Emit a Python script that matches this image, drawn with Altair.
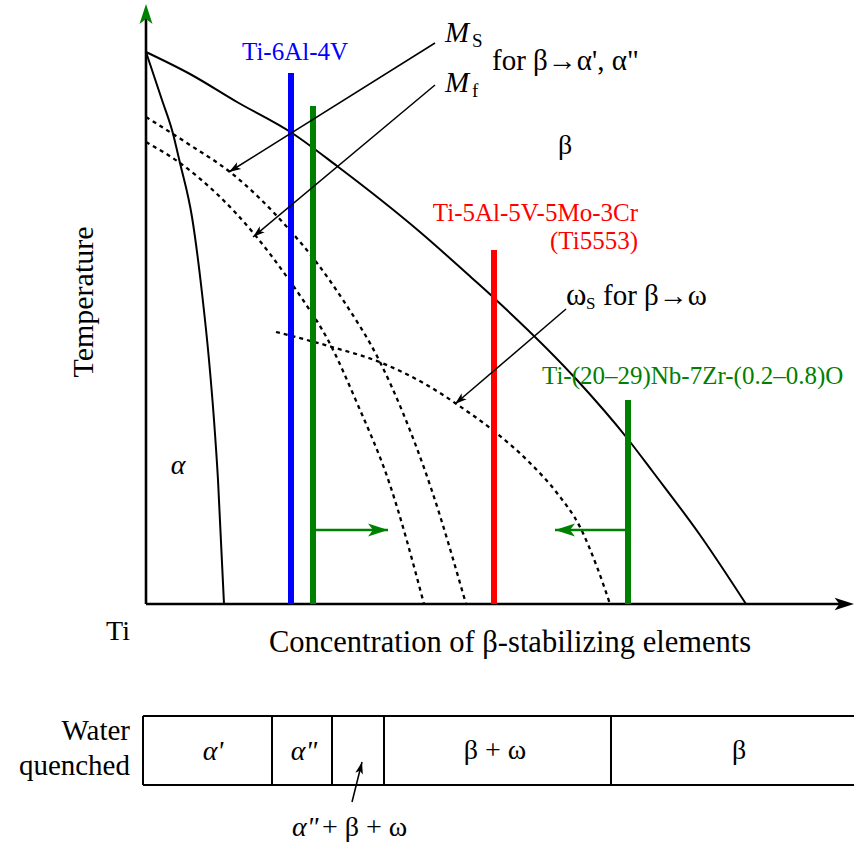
import math
import altair as alt
import pandas as pd

W, H = 854, 845
FONT = "Liberation Serif"
BLACK, BLUE, RED, GREEN = "#000000", "#0000ff", "#ff0000", "#008000"

# ---------------- data (schematic diagram coordinates) ----------------
# solid phase boundaries
beta_transus_x = [146, 190, 237, 292, 337, 420, 473, 494, 577, 627, 653, 700, 746]
beta_transus_y = [52, 74, 102, 133, 166, 232, 279, 298, 380, 438, 472, 535, 604]
alpha_transus_x = [146, 162, 172, 180, 192, 202, 209, 214, 218, 224]
alpha_transus_y = [52, 100, 130, 163, 217, 293, 360, 420, 480, 604]
# dashed transformation-start lines
ms_x = [146, 190, 230, 287, 317, 343, 380, 403, 431, 466]
ms_y = [117, 145, 172, 227, 263, 300, 362, 413, 488, 604]
mf_x = [146, 180, 255, 287, 303, 328, 357, 390, 424]
mf_y = [142, 163, 235, 277, 300, 340, 403, 485, 604]
omega_x = [276, 332, 382, 440, 455, 490, 530, 557, 580, 597, 610]
omega_y = [332, 347, 363, 393, 403, 428, 463, 493, 527, 567, 604]

# alloy composition bars
alloy_x = [291, 313, 494, 628]
alloy_top = [73, 106, 250, 400]
alloy_base = 604

# annotation arrows (tail -> tip)
ann_tail_x = [435, 435, 566, 352]
ann_tail_y = [43, 85, 309, 802]
ann_tip_x = [229, 253, 455, 362]
ann_tip_y = [172, 237, 404, 762]

# green shift arrows
shift_tail_x = [316, 626]
shift_tip_x = [388, 555]
shift_y = [530, 530]

# water-quenched phase strip
strip_bounds = [143, 272, 332, 384, 611]
strip_right = 854
strip_top, strip_bottom = 716, 785
strip_labels_italic = ["α'", 'α"']
strip_labels_italic_x = [213, 304]
strip_labels_upright = ["β + ω", "β"]
strip_labels_upright_x = [495, 739]

# ---------------- helpers ----------------
def X(f):
    return alt.X(f"{f}:Q", scale=alt.Scale(domain=[0, W], nice=False, zero=False), axis=None)

def Y(f):
    return alt.Y(f"{f}:Q", scale=alt.Scale(domain=[0, H], nice=False, zero=False, reverse=True), axis=None)

def curve(xs, ys, dash=None, width=2.0):
    df = pd.DataFrame({"x": xs, "y": ys, "i": list(range(len(xs)))})
    kw = dict(interpolate="monotone", color=BLACK, strokeWidth=width)
    if dash:
        kw["strokeDash"] = dash
    return alt.Chart(df).mark_line(**kw).encode(x=X("x"), y=Y("y"), order="i:Q")

def segs(x1, y1, x2, y2, color=BLACK, width=2.0):
    df = pd.DataFrame({"x": x1, "y": y1, "x2": x2, "y2": y2})
    return alt.Chart(df).mark_rule(color=color, strokeWidth=width).encode(
        x=X("x"), y=Y("y"), x2="x2:Q", y2="y2:Q")

HEAD = "M0,0L-2,-0.65L-1.5,0L-2,0.65Z"

def heads(xs, ys, angles, size, color):
    df = pd.DataFrame({"x": xs, "y": ys, "a": angles})
    return alt.Chart(df).mark_point(shape=HEAD, filled=True, opacity=1, size=size,
                                    color=color, strokeWidth=0).encode(
        x=X("x"), y=Y("y"), angle=alt.Angle("a:Q", scale=None))

def text(texts, xs, ys, size, color=BLACK, align="center", style="normal", angle=0,
         baseline="alphabetic"):
    df = pd.DataFrame({"t": texts, "x": xs, "y": ys})
    return alt.Chart(df).mark_text(font=FONT, fontSize=size, color=color, align=align,
                                   baseline=baseline, fontStyle=style, angle=angle).encode(
        x=X("x"), y=Y("y"), text="t:N")

def ang(tx, ty, hx, hy):
    return (math.degrees(math.atan2(hy - ty, hx - tx)) + 360) % 360

layers = []

# axes
layers.append(segs([146], [604], [146], [18], BLACK, 2.6))
layers.append(segs([146], [604], [846], [604], BLACK, 2.6))
layers.append(heads([146], [4], [270], 400, GREEN))
layers.append(heads([854], [604], [0], 380, BLACK))

# phase boundaries
layers.append(curve(beta_transus_x, beta_transus_y, width=2.0))
layers.append(curve(alpha_transus_x, alpha_transus_y, width=2.0))
layers.append(curve(ms_x, ms_y, dash=[4, 4], width=2.3))
layers.append(curve(mf_x, mf_y, dash=[4, 4], width=2.3))
layers.append(curve(omega_x, omega_y, dash=[4, 4], width=2.3))

# alloy bars
bar_colors = [BLUE, GREEN, RED, GREEN]
for bx, bt, bc in zip(alloy_x, alloy_top, bar_colors):
    layers.append(segs([bx], [bt], [bx], [alloy_base], bc, 6))

# annotation arrows
layers.append(segs(ann_tail_x, ann_tail_y, ann_tip_x, ann_tip_y, BLACK, 1.5))
layers.append(heads(ann_tip_x, ann_tip_y,
                    [ang(a, b, c, d) for a, b, c, d in zip(ann_tail_x, ann_tail_y, ann_tip_x, ann_tip_y)],
                    144, BLACK))

# green shift arrows
layers.append(segs(shift_tail_x, shift_y, shift_tip_x, shift_y, GREEN, 2.5))
layers.append(heads(shift_tip_x, shift_y,
                    [ang(a, y, b, y) for a, b, y in zip(shift_tail_x, shift_tip_x, shift_y)],
                    400, GREEN))

# strip
layers.append(segs([strip_bounds[0], strip_bounds[0]], [strip_top, strip_bottom],
                   [strip_right, strip_right], [strip_top, strip_bottom], BLACK, 2))
layers.append(segs(strip_bounds, [strip_top] * len(strip_bounds),
                   strip_bounds, [strip_bottom] * len(strip_bounds), BLACK, 2))

# texts
layers.append(text(["Ti-6Al-4V"], [295], [60], 25, BLUE))
layers.append(text(["Ti-5Al-5V-5Mo-3Cr", "(Ti5553)"], [638, 638], [221, 249], 25, RED, align="right"))
layers.append(text(["Ti-(20–29)Nb-7Zr-(0.2–0.8)O"], [542], [384], 25, GREEN, align="left"))
layers.append(text(["M", "M"], [445, 445], [42, 92], 29, align="left", style="italic"))
layers.append(text(["S", "f"], [472, 472], [47, 97], 19, align="left"))
layers.append(text(["for β→α', α\""], [492], [70], 29, align="left"))
layers.append(text(["ω"], [566], [305], 31, align="left"))
layers.append(text(["S"], [586], [309], 17, align="left"))
layers.append(text(["for β→ω"], [603], [305], 29, align="left"))
layers.append(text(["β"], [565], [154], 28))
layers.append(text(["α"], [178], [474], 28, style="italic"))
layers.append(text(["Temperature"], [84], [302], 30, angle=270, baseline="middle"))
layers.append(text(["Ti"], [118], [640], 28))
layers.append(text(["Concentration of β-stabilizing elements"], [510], [652], 30.5))
layers.append(text(["Water", "quenched"], [130, 130], [740, 775], 29, align="right"))
layers.append(text(strip_labels_italic, strip_labels_italic_x, [760, 760], 28, style="italic"))
layers.append(text(strip_labels_upright, strip_labels_upright_x, [759, 759], 28))
layers.append(text(['α"'], [292], [836], 28, align="left", style="italic"))
layers.append(text(["+ β + ω"], [322], [836], 28, align="left"))

chart = alt.layer(*layers).properties(
    width=W, height=H, padding=0, autosize=alt.AutoSizeParams(type="none")
).configure_view(stroke=None)

chart.save("out.html", embed_options={"renderer": "svg", "actions": False})
